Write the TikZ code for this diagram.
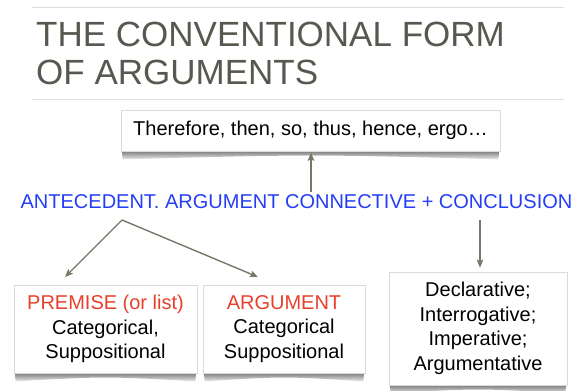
\documentclass[tikz,border=0pt]{standalone}
\usepackage{fontspec}
\setmainfont{Liberation Sans}
\usetikzlibrary{backgrounds,arrows.meta,calc,positioning}

% curled shadow under a card, drawn on the background layer
\newcommand\cardshadow[1]{%
  \shade[top color=black!55, bottom color=black!8]
    ($(#1.south west)+(1,-1)$) -- ($(#1.south west)+(2,8)$)
    .. controls ($(#1.south)+(0,3)$) .. ($(#1.south east)+(-2,8)$)
    -- ($(#1.south east)+(-1,-1)$) -- cycle;}

\begin{document}
\begin{tikzpicture}[x=1pt, y=-1pt]
  % Colours taken from the slide
  \definecolor{titlegray}{RGB}{88, 87, 80}
  \definecolor{rulegray}{RGB}{222, 222, 222}
  \definecolor{keyblue}{RGB}{36, 62, 245}
  \definecolor{keyred}{RGB}{232, 64, 44}
  \definecolor{arrowgray}{RGB}{120, 118, 104}
  \definecolor{boxline}{RGB}{218, 218, 218}

  % --- Styles ---
  \tikzset{
    card/.style={draw=boxline, line width=0.6pt, fill=white, align=center,
      inner sep=0pt, font=\fontsize{20}{24.5}\selectfont},
    arr/.style={draw=arrowgray, line width=1.4pt,
      -{Stealth[length=8pt, width=6.5pt, inset=1.5pt]}},
    rule/.style={draw=rulegray, line width=0.8pt}
  }

  \useasboundingbox (0,0) rectangle (579,391);

  % --- Title and its rules ---
  \draw[rule] (32,7) -- (564,7);
  \draw[rule] (32,99) -- (564,99);
  \node[anchor=north west, inner sep=0pt, align=left, text=titlegray,
    font=\fontsize{35}{38}\selectfont] (title) at (36,21.5)
    {THE CONVENTIONAL FORM\\OF ARGUMENTS};

  % --- Connective words (top box) ---
  \node[card, minimum width=379pt, minimum height=41pt] (conn) at (310.5,130.5)
    {Therefore, then, so, thus, hence, ergo…};

  % --- The form itself ---
  \node[anchor=base, inner sep=0pt, text=keyblue, font=\fontsize{20}{24}\selectfont]
    (form) at (296.5,208) {ANTECEDENT. ARGUMENT CONNECTIVE + CONCLUSION};

  % --- Lower boxes ---
  \node[card, minimum width=183pt, minimum height=88pt] (prem) at (105.5,329)
    {\textcolor{keyred}{PREMISE (or list)}\\Categorical,\\Suppositional};
  \node[card, minimum width=162pt, minimum height=88pt] (argu) at (284,329)
    {\textcolor{keyred}{ARGUMENT}\\Categorical\\Suppositional};
  \node[card, minimum width=178pt, minimum height=113pt] (concl) at (478,328.5)
    {Declarative;\\Interrogative;\\Imperative;\\Argumentative};

  % --- Shadows ---
  \begin{scope}[on background layer]
    \foreach \card in {conn,prem,argu,concl}
      \cardshadow{\card};
  \end{scope}

  % --- Arrows ---
  \coordinate (cup) at (311,192);
  \coordinate (cdown) at (480,220);
  \coordinate (split) at (122,220);
  \coordinate (premtip) at (65,277);
  \coordinate (argutip) at (258,277);
  \draw[arr, shorten >=1.5pt] (cup) -- (cup |- conn.south);
  \draw[arr, shorten >=4pt] (cdown) -- (cdown |- concl.north);
  \draw[arr] (split) -- (premtip);
  \draw[arr] (split) -- (argutip);

\end{tikzpicture}
\end{document}
